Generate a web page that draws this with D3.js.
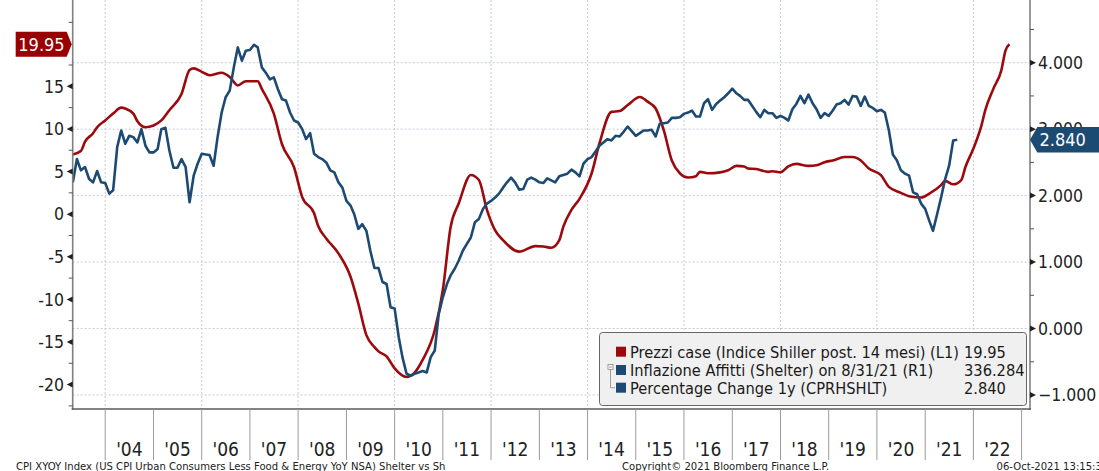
<!DOCTYPE html>
<html>
<head>
<meta charset="utf-8">
<script src="https://cdn.jsdelivr.net/npm/d3@7"></script>
<style>
  body { margin: 0; background: #fff; }
  svg { display: block; font-family: "DejaVu Sans Condensed", "Liberation Sans", sans-serif; }
</style>
</head>
<body>
<svg id="chart"></svg>
<script>
// Prezzi case (Shiller, shifted 14 months) - left axis, YoY %
const redDates = ["2003-05","2003-07","2003-08","2003-10","2003-11","2004-01","2004-03","2004-05","2004-06","2004-08","2004-09","2004-11",
  "2005-01","2005-03","2005-05","2005-08","2005-10","2005-11","2006-01","2006-03","2006-06","2006-08","2006-10","2006-12",
  "2007-03","2007-04","2007-07","2007-09","2007-12","2008-02","2008-05","2008-06","2008-08","2008-11","2009-02","2009-04",
  "2009-06","2009-08","2009-09","2009-11","2010-01","2010-04","2010-06","2010-08","2010-11","2011-01","2011-03","2011-05",
  "2011-08","2011-10","2011-12","2012-02","2012-04","2012-08","2012-12","2013-02","2013-04","2013-06","2013-07","2013-09",
  "2013-11","2014-02","2014-04","2014-07","2014-09","2014-11","2015-02","2015-04","2015-06","2015-08","2015-10","2015-12",
  "2016-02","2016-04","2016-05","2016-07","2016-10","2016-12","2017-02","2017-04","2017-05","2017-07","2017-10","2017-11",
  "2018-01","2018-03","2018-05","2018-08","2018-10","2018-12","2019-02","2019-05","2019-07","2019-09","2019-11","2020-02",
  "2020-04","2020-07","2020-09","2020-12","2021-02","2021-05","2021-06","2021-08","2021-10","2021-11","2022-01","2022-03",
  "2022-04","2022-06","2022-08","2022-09","2022-10"];
const redValues = [7.0,7.4,8.5,9.5,10.2,11.0,11.8,12.5,12.4,11.8,10.9,10.2,
  10.4,11.0,12.2,14.1,16.9,17.1,16.7,16.3,16.6,16.1,15.1,15.6,
  15.6,14.7,11.8,8.2,5.5,2.0,0.1,-1.4,-2.85,-4.6,-7.35,-10.5,
  -14.2,-15.6,-16.1,-16.7,-18.1,-19.1,-18.6,-17.1,-13.6,-8.9,-1.5,1.25,
  4.6,4.0,0.5,-1.9,-3.05,-4.4,-3.75,-3.8,-3.95,-3.05,-1.5,0.5,
  1.8,4.8,8.3,12.0,12.1,12.8,13.75,13.2,12.4,9.85,6.3,4.8,
  4.3,4.45,4.96,4.8,4.9,5.15,5.66,5.6,5.35,5.3,4.96,5.04,
  4.9,5.6,5.9,5.66,5.74,6.1,6.3,6.7,6.7,6.3,5.35,4.57,
  3.2,2.5,2.1,1.95,2.4,3.4,3.9,3.5,4.0,5.5,7.7,10.3,
  12.2,14.7,16.9,19.2,19.95];

// Inflazione affitti (Shelter), percentage change 1y - right axis
const blueDates = ["2003-05","2003-06","2003-07","2003-08","2003-09","2003-10","2003-11","2003-12",
  "2004-01","2004-02","2004-03","2004-04","2004-05","2004-06","2004-07","2004-08","2004-09","2004-10","2004-11","2004-12",
  "2005-01","2005-02","2005-03","2005-04","2005-05","2005-06","2005-07","2005-08","2005-09","2005-10","2005-11","2005-12",
  "2006-01","2006-02","2006-03","2006-04","2006-05","2006-06","2006-07","2006-08","2006-09","2006-10","2006-11","2006-12",
  "2007-01","2007-02","2007-03","2007-04","2007-05","2007-06","2007-07","2007-08","2007-09","2007-10","2007-11","2007-12",
  "2008-01","2008-02","2008-03","2008-04","2008-05","2008-06","2008-07","2008-08","2008-09","2008-10","2008-11","2008-12",
  "2009-01","2009-02","2009-03","2009-04","2009-05","2009-06","2009-07","2009-08","2009-09","2009-10","2009-11","2009-12",
  "2010-01","2010-02","2010-03","2010-04","2010-05","2010-06","2010-07","2010-08","2010-09","2010-10","2010-11","2010-12",
  "2011-01","2011-02","2011-03","2011-04","2011-05","2011-06","2011-07","2011-08","2011-09","2011-10","2011-11","2011-12",
  "2012-01","2012-02","2012-03","2012-04","2012-05","2012-06","2012-07","2012-08","2012-09","2012-10","2012-11","2012-12",
  "2013-01","2013-02","2013-03","2013-04","2013-05","2013-06","2013-07","2013-08","2013-09","2013-10","2013-11","2013-12",
  "2014-01","2014-02","2014-03","2014-04","2014-05","2014-06","2014-07","2014-08","2014-09","2014-10","2014-11","2014-12",
  "2015-01","2015-02","2015-03","2015-04","2015-05","2015-06","2015-07","2015-08","2015-09","2015-10","2015-11","2015-12",
  "2016-01","2016-02","2016-03","2016-04","2016-05","2016-06","2016-07","2016-08","2016-09","2016-10","2016-11","2016-12",
  "2017-01","2017-02","2017-03","2017-04","2017-05","2017-06","2017-07","2017-08","2017-09","2017-10","2017-11","2017-12",
  "2018-01","2018-02","2018-03","2018-04","2018-05","2018-06","2018-07","2018-08","2018-09","2018-10","2018-11","2018-12",
  "2019-01","2019-02","2019-03","2019-04","2019-05","2019-06","2019-07","2019-08","2019-09","2019-10","2019-11","2019-12",
  "2020-01","2020-02","2020-03","2020-04","2020-05","2020-06","2020-07","2020-08","2020-09","2020-10","2020-11","2020-12",
  "2021-01","2021-02","2021-03","2021-04","2021-05","2021-06","2021-07","2021-08","2021-09"];
const blueValues = [2.20,2.55,2.38,2.43,2.25,2.20,2.37,2.20,
  2.19,2.03,2.08,2.73,2.98,2.78,2.90,2.88,2.80,3.00,2.75,2.65,
  2.65,2.70,3.00,3.02,2.68,2.42,2.42,2.55,2.43,1.90,2.30,2.48,
  2.63,2.62,2.61,2.45,2.88,3.25,3.48,3.58,3.93,4.23,4.03,4.18,
  4.19,4.27,4.23,3.93,3.85,3.75,3.78,3.60,3.45,3.43,3.25,3.13,
  3.10,3.00,2.85,2.94,2.63,2.58,2.55,2.50,2.38,2.35,2.20,2.12,
  1.92,1.85,1.72,1.50,1.57,1.47,1.17,0.91,0.91,0.70,0.67,0.32,
  0.30,-0.13,-0.43,-0.68,-0.71,-0.68,-0.66,-0.64,-0.66,-0.43,-0.33,0.22,
  0.47,0.67,0.80,0.90,1.02,1.17,1.27,1.37,1.60,1.65,1.80,1.88,
  1.92,1.97,2.03,2.12,2.20,2.27,2.20,2.09,2.10,2.24,2.27,2.24,
  2.20,2.19,2.26,2.23,2.20,2.29,2.31,2.33,2.39,2.35,2.29,2.48,
  2.55,2.58,2.66,2.75,2.80,2.85,2.83,2.90,2.89,2.96,3.04,2.97,
  2.90,2.94,2.98,2.98,2.99,2.89,3.08,3.09,3.10,3.17,3.17,3.18,
  3.23,3.25,3.28,3.19,3.19,3.39,3.45,3.29,3.38,3.43,3.48,3.54,
  3.61,3.54,3.50,3.44,3.44,3.35,3.26,3.18,3.29,3.24,3.24,3.17,
  3.20,3.17,3.13,3.30,3.38,3.50,3.39,3.52,3.39,3.30,3.17,3.24,
  3.20,3.28,3.37,3.39,3.44,3.37,3.50,3.49,3.35,3.49,3.35,3.32,
  3.27,3.29,3.25,2.98,2.62,2.53,2.38,2.33,2.30,2.05,2.02,1.88,
  1.80,1.62,1.47,1.72,1.97,2.25,2.45,2.83,2.84];

const leftTicks = [-20, -15, -10, -5, 0, 5, 10, 15];
const rightTicks = [-1, 0, 1, 2, 3, 4];
const yearLabels = ["'04","'05","'06","'07","'08","'09","'10","'11","'12","'13","'14","'15","'16","'17","'18","'19","'20","'21","'22"];
const firstYear = 2004;

const legendRows = [
  { label: "Prezzi case (Indice Shiller post. 14 mesi) (L1)", value: "19.95", color: "#9c0a0d" },
  { label: "Inflazione Affitti (Shelter) on 8/31/21 (R1)", value: "336.284", color: "#1d4a72" },
  { label: "Percentage Change 1y (CPRHSHLT)", value: "2.840", color: "#1d4a72" }
];
const lastRed = 19.95, lastBlue = 2.840;

const width = 1099, height = 471;
const plotL = 72.7, plotR = 1030, plotB = 409;
const red = "#9c0a0d", blue = "#1d4a72";
const gridColor = "#c6c9d8";

const parse = d3.timeParse("%Y-%m");
const redData = redDates.map((d, i) => ({ date: parse(d), v: redValues[i] }));
const blueData = blueDates.map((d, i) => ({ date: parse(d), v: blueValues[i] }));

const svg = d3.select("#chart").attr("width", width).attr("height", height);

const x = d3.scaleTime()
    .domain([new Date(2004, 0, 1), new Date(2023, 0, 1)])
    .range([105.2, 1021.6]);
const yL = d3.scaleLinear().domain([-20, 20]).range([384.6, 43.7]);
const yR = d3.scaleLinear().domain([-1, 4]).range([395, 62.7]);

// grid (follows the right axis horizontally, every 2 years vertically)
svg.append("g").selectAll("line")
    .data(rightTicks)
    .enter().append("line")
    .attr("x1", plotL).attr("x2", plotR)
    .attr("y1", d => yR(d)).attr("y2", d => yR(d))
    .attr("stroke", gridColor).attr("stroke-dasharray", "2,2");

const gridYears = d3.range(2004, 2023, 2);
svg.append("g").selectAll("line")
    .data(gridYears)
    .enter().append("line")
    .attr("x1", d => x(new Date(d, 0, 1))).attr("x2", d => x(new Date(d, 0, 1)))
    .attr("y1", 0).attr("y2", plotB)
    .attr("stroke", gridColor).attr("stroke-dasharray", "2,2");

svg.append("clipPath").attr("id", "plotclip")
    .append("rect").attr("x", plotL).attr("y", 0).attr("width", plotR - plotL).attr("height", plotB);

// house prices are a smoothed series, shelter stays jagged
const lineL = d3.line().x(d => x(d.date)).y(d => yL(d.v)).curve(d3.curveMonotoneX);
const lineR = d3.line().x(d => x(d.date)).y(d => yR(d.v));

const lines = svg.append("g").attr("clip-path", "url(#plotclip)");
lines.append("path").datum(redData)
    .attr("d", lineL).attr("fill", "none")
    .attr("stroke", red).attr("stroke-width", 2.6).attr("stroke-linejoin", "round");
lines.append("path").datum(blueData)
    .attr("d", lineR).attr("fill", "none")
    .attr("stroke", blue).attr("stroke-width", 2.6).attr("stroke-linejoin", "round");

// frame
svg.append("line").attr("x1", plotL).attr("x2", plotL).attr("y1", 0).attr("y2", plotB + 1)
    .attr("stroke", "#808080").attr("stroke-width", 1.6);
svg.append("line").attr("x1", plotR).attr("x2", plotR).attr("y1", 0).attr("y2", plotB + 1)
    .attr("stroke", "#808080").attr("stroke-width", 1.6);
svg.append("line").attr("x1", plotL - 1).attr("x2", plotR + 1).attr("y1", plotB).attr("y2", plotB)
    .attr("stroke", "#5a5a5a").attr("stroke-width", 1.6);

// left axis
const leftMinor = d3.range(-22.5, 25, 5);
svg.append("g").selectAll("line").data(leftMinor).enter().append("line")
    .attr("x1", plotL - 4).attr("x2", plotL).attr("y1", d => yL(d)).attr("y2", d => yL(d))
    .attr("stroke", "#555");
svg.append("g").selectAll("path").data(leftTicks).enter().append("path")
    .attr("d", d => `M${plotL},${yL(d) - 3}L${plotL},${yL(d) + 3}L${plotL - 6},${yL(d)}Z`)
    .attr("fill", "#222");
svg.append("g").selectAll("text").data(leftTicks).enter().append("text")
    .attr("x", 64).attr("y", d => yL(d)).attr("dy", "0.36em")
    .attr("text-anchor", "end").style("font-size", "17.5px").style("fill", "#222")
    .text(d => d);

// right axis
const rightMinor = d3.range(-0.5, 5, 1);
svg.append("g").selectAll("line").data(rightMinor).enter().append("line")
    .attr("x1", plotR).attr("x2", plotR + 4).attr("y1", d => yR(d)).attr("y2", d => yR(d))
    .attr("stroke", "#555");
svg.append("g").selectAll("path").data(rightTicks).enter().append("path")
    .attr("d", d => `M${plotR},${yR(d) - 3}L${plotR},${yR(d) + 3}L${plotR + 6},${yR(d)}Z`)
    .attr("fill", "#222");
svg.append("g").selectAll("text").data(rightTicks).enter().append("text")
    .attr("x", 1038).attr("y", d => yR(d)).attr("dy", "0.36em")
    .style("font-size", "17.5px").style("fill", "#222")
    .text(d => d3.format(".3f")(d));

// bottom axis: year separators and labels
const yearEdges = d3.range(firstYear, firstYear + yearLabels.length + 1);
svg.append("g").selectAll("line").data(yearEdges).enter().append("line")
    .attr("x1", d => x(new Date(d, 0, 1))).attr("x2", d => x(new Date(d, 0, 1)))
    .attr("y1", plotB).attr("y2", 460)
    .attr("stroke", "#9a9a9a");
svg.append("g").selectAll("text").data(yearLabels).enter().append("text")
    .attr("x", (d, i) => x(new Date(firstYear + i, 6, 2)))
    .attr("y", 456)
    .attr("text-anchor", "middle").style("font-size", "19px").style("fill", "#222")
    .text(d => d);

// last value tags
const ty = yL(lastRed);
svg.append("path")
    .attr("d", `M15.7,${ty - 12.5}L66.7,${ty - 12.5}L71.7,${ty}L66.7,${ty + 12.5}L15.7,${ty + 12.5}Z`)
    .attr("fill", "#990000");
svg.append("text").attr("x", 41.5).attr("y", ty).attr("dy", "0.36em")
    .attr("text-anchor", "middle").style("font-size", "18px").style("fill", "#fff")
    .text(d3.format(".2f")(lastRed));

const by = yR(lastBlue);
svg.append("path")
    .attr("d", `M${plotR},${by}L1037.3,${by - 12.7}L1099,${by - 12.7}L1099,${by + 12.7}L1037.3,${by + 12.7}Z`)
    .attr("fill", "#1b4a72");
svg.append("text").attr("x", 1039.5).attr("y", by).attr("dy", "0.36em")
    .style("font-size", "18px").style("fill", "#fff")
    .text(d3.format(".3f")(lastBlue));

// legend
const lg = svg.append("g");
lg.append("rect").attr("x", 599.5).attr("y", 332.5).attr("width", 427).attr("height", 73)
    .attr("rx", 3).attr("fill", "#f0f0f0").attr("stroke", "#666");
const rowY = [351.7, 370, 387.7];
legendRows.forEach((r, i) => {
    lg.append("rect").attr("x", 616).attr("y", rowY[i] - 5).attr("width", 10).attr("height", 10).attr("fill", r.color);
    lg.append("text").attr("x", 630).attr("y", rowY[i]).attr("dy", "0.36em")
        .style("font-size", "16.3px").style("fill", "#1a1a1a").text(r.label);
    lg.append("text").attr("x", 964).attr("y", rowY[i]).attr("dy", "0.36em")
        .style("font-size", "16.3px").style("fill", "#1a1a1a").text(r.value);
});
// tree connector between the shelter rows
lg.append("rect").attr("x", 608).attr("y", 364.5).attr("width", 5).attr("height", 5)
    .attr("fill", "#fff").attr("stroke", "#888").attr("stroke-width", 0.8);
lg.append("line").attr("x1", 609).attr("x2", 612).attr("y1", 367).attr("y2", 367).attr("stroke", "#888").attr("stroke-width", 0.8);
lg.append("path").attr("d", `M610.5,369.5L610.5,${rowY[2]}L615,${rowY[2]}`)
    .attr("fill", "none").attr("stroke", "#888").attr("stroke-width", 0.8);

// footer
const foot = svg.append("g").style("font-size", "11.2px").style("fill", "#222");
foot.append("text").attr("x", 16).attr("y", 469.5).text("CPI XYOY Index (US CPI Urban Consumers Less Food & Energy YoY NSA) Shelter vs Sh");
foot.append("text").attr("x", 622).attr("y", 469.5).text("Copyright\u00a9 2021 Bloomberg Finance L.P.");
foot.append("text").attr("x", 996.5).attr("y", 469.5).text("06-Oct-2021 13:15:3");
</script>
</body>
</html>
